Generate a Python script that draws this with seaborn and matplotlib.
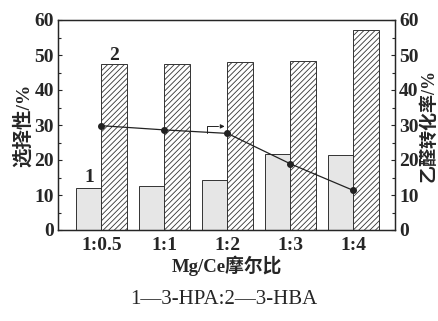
import matplotlib
matplotlib.use("Agg")
import matplotlib.pyplot as plt
import numpy as np
import pandas as pd
import seaborn as sns

ratios = ["1:0.5", "1:1", "1:2", "1:3", "1:4"]
hpa_sel = [11.9, 12.6, 14.3, 21.7, 21.3]
hba_sel = [47.3, 47.5, 48.1, 48.4, 57.1]
conversion = [29.8, 28.6, 27.6, 18.9, 11.3]

sns.set_style("ticks")
plt.rcParams["font.family"] = ["Liberation Serif", "Noto Sans CJK SC"]
plt.rcParams["hatch.linewidth"] = 0.6

df = pd.DataFrame({
    "ratio": ratios * 2,
    "sel": hpa_sel + hba_sel,
    "prod": ["3-HPA"] * 5 + ["3-HBA"] * 5,
})

fig = plt.figure(figsize=(4.39, 3.21), dpi=100)
ax = fig.add_axes([58 / 439, 1 - 230 / 321, 337 / 439, 210 / 321])

sns.barplot(data=df, x="ratio", y="sel", hue="prod", order=ratios,
            palette=["#e6e6e6", "white"], edgecolor="#333333", linewidth=0.7,
            width=0.8, legend=False, ax=ax)
for bar in ax.containers[1]:
    bar.set_hatch("//////")

ax.set_xlim(-0.69, 4.66)
ax.set_ylim(0, 60)
ax.set_yticks(range(0, 61, 10))
ax.set_yticks(range(5, 60, 10), minor=True)
ax.tick_params(axis="y", which="both", direction="in", length=3, width=0.8, pad=3)
ax.tick_params(axis="y", which="minor", length=2)
ax.tick_params(axis="x", length=0, pad=5)
for lab in ax.get_xticklabels() + ax.get_yticklabels():
    lab.set_fontweight("bold")
    lab.set_fontsize(14)
ax.set_xlabel("Mg/Ce摩尔比", fontsize=13.5, fontweight="bold", labelpad=1)
ax.set_ylabel("选择性/%", fontsize=14, fontweight="bold", labelpad=1)
for sp in ax.spines.values():
    sp.set_linewidth(1.0)
    sp.set_visible(True)

ax.text(0 - 0.2, hpa_sel[0] + 0.6, "1", ha="center", va="bottom",
        fontsize=14, fontweight="bold")
ax.text(0 + 0.2, hba_sel[0] + 0.2, "2", ha="center", va="bottom",
        fontsize=14, fontweight="bold")

ax2 = ax.twinx()
ax2.plot(np.arange(len(ratios)), conversion, color="#222222", lw=0.9,
         marker="o", ms=4, mfc="#222222", mec="#222222")
ax2.set_xlim(-0.69, 4.66)
ax2.set_ylim(0, 60)
ax2.set_yticks(range(0, 61, 10))
ax2.set_yticks(range(5, 60, 10), minor=True)
ax2.tick_params(axis="y", which="both", direction="in", length=3, width=0.8, pad=3)
ax2.tick_params(axis="y", which="minor", length=2)
for lab in ax2.get_yticklabels():
    lab.set_fontweight("bold")
    lab.set_fontsize(14)
ax2.set_ylabel("乙醛转化率/%", fontsize=13, fontweight="bold", rotation=90,
               labelpad=1)

# arrow pointing to right axis
ax2.plot([1.67, 1.67, 1.85], [27.6, 29.6, 29.6], color="#222222", lw=0.7)
ax2.annotate("", xy=(2.0, 29.6), xytext=(1.84, 29.6),
             arrowprops=dict(arrowstyle="-|>", color="#222222", lw=0.7,
                             mutation_scale=6))

fig.text(224 / 439, 1 - 300 / 321, "1—3-HPA:2—3-HBA", ha="center",
         va="center", fontsize=15)

fig.savefig("out.png", dpi=100)
